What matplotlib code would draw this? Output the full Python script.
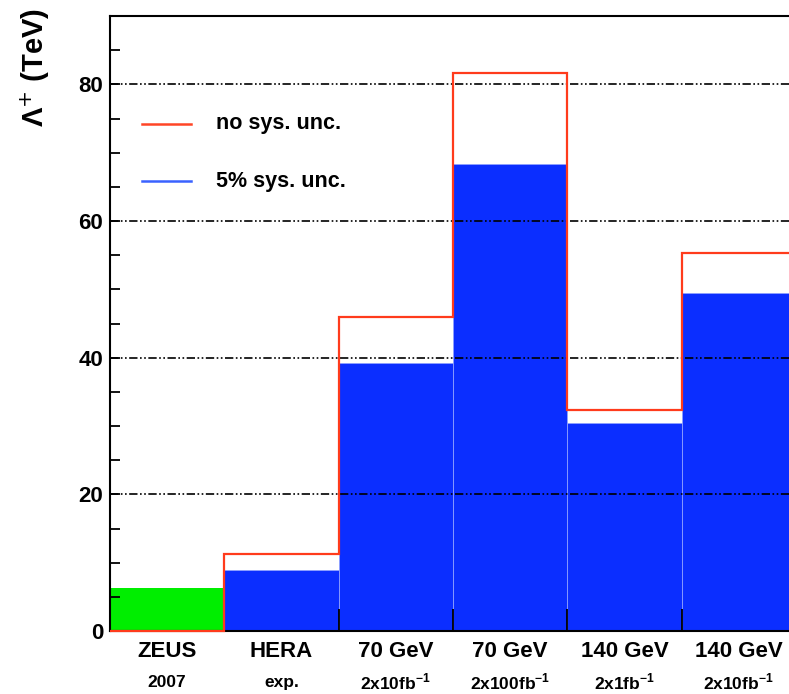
import matplotlib
matplotlib.use('Agg')
import matplotlib.pyplot as plt
import matplotlib.transforms as mtransforms
import numpy as np

plt.rcParams['font.family'] = ['Liberation Sans', 'DejaVu Sans']

# bins: ZEUS 2007, HERA exp., and four projections
top_lines = ["ZEUS", "HERA", "70 GeV", "70 GeV", "140 GeV", "140 GeV"]
sub_lines = ["2007", "exp.", "2x10fb$^{\\mathregular{-1}}$", "2x100fb$^{\\mathregular{-1}}$",
             "2x1fb$^{\\mathregular{-1}}$", "2x10fb$^{\\mathregular{-1}}$"]
no_sys = [0.0, 11.3, 46.0, 81.6, 32.4, 55.3]
sys5 = [0.0, 8.9, 39.2, 68.4, 30.4, 49.5]
zeus = [6.3, 0, 0, 0, 0, 0]

RED = '#ff3b1c'
BLUE = '#0b2eff'
GREEN = '#00ee00'

edges = np.arange(len(top_lines) + 1)

fig = plt.figure(figsize=(7.89, 6.94), dpi=100)
ax = fig.add_axes([110/789, 1 - 631/694, 686/789, 615/694])

ax.bar(edges[:-1], sys5, width=1, align='edge', color=BLUE,
       edgecolor='#8ea0ff', linewidth=0.6, zorder=1)
ax.bar(edges[:-1], zeus, width=1, align='edge', color=GREEN, linewidth=0, zorder=1.1)

for yv in [20, 40, 60, 80]:
    ax.axhline(yv, color='black', lw=1.2, dashes=(5, 1.5, 1, 1.5, 1, 1.5), zorder=1.5)

ax.stairs(no_sys, edges, baseline=0, color=RED, lw=1.6, zorder=3, clip_on=False)

ax.set_xlim(0, 6)
ax.set_ylim(0, 90)
ax.set_yticks([0, 20, 40, 60, 80])
ax.set_yticks(np.arange(0, 90, 5), minor=True)
ax.set_xticks([2, 3, 4, 5])
ax.set_xticklabels([])
ax.tick_params(axis='y', which='both', direction='in', length=7, width=1.3,
               labelsize=16, pad=5, right=False)
ax.tick_params(axis='x', direction='in', length=16, width=1.3, top=False)
for lab in ax.get_yticklabels():
    lab.set_fontweight('bold')
for s in ax.spines.values():
    s.set_linewidth(1.5)

# category labels under each bin
tr = mtransforms.blended_transform_factory(ax.transData, ax.transAxes)
for i in range(len(top_lines)):
    ax.text(i + 0.5, -0.033, top_lines[i], transform=tr, ha='center', va='center',
            fontsize=16, fontweight='bold')
    ax.text(i + 0.5, -0.083, sub_lines[i], transform=tr, ha='center', va='center',
            fontsize=12.5, fontweight='bold')

# legend drawn by hand
leg_labels = ["no sys. unc.", "5% sys. unc."]
leg_colors = ['#ff4526', '#3a62ff']
leg_y = [(631 - 124) / 615, (631 - 181) / 615]
for lab, c, yy in zip(leg_labels, leg_colors, leg_y):
    ax.plot([32/686, 81/686], [yy, yy], color=c, lw=1.8, transform=ax.transAxes)
    ax.text(106/686, yy, lab, transform=ax.transAxes, ha='left', va='center',
            fontsize=15.5, fontweight='bold')

fig.text(35/789, 1 - 8/694, "Λ$^{+}$ (TeV)", rotation=90, ha='center', va='top',
         fontsize=21, fontweight='bold')

fig.savefig('out.png', dpi=100)
